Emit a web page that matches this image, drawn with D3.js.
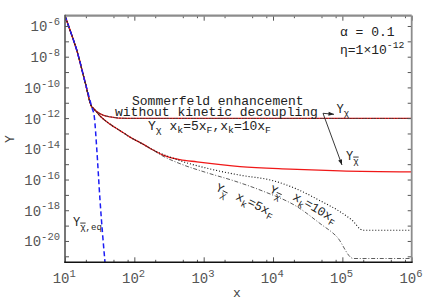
<!DOCTYPE html>
<html>
<head>
<meta charset="utf-8">
<script src="https://cdn.jsdelivr.net/npm/d3@7"></script>
<style>
body { margin: 0; background: #fff; }
text { font-family: 'Liberation Mono', 'DejaVu Sans Mono', monospace; white-space: pre; fill: #222; }
</style>
</head>
<body>
<script>

// values, [x, Y]
var sharedStart = [[10, 4.68e-6], [11.8, 5.47e-7], [14.75, 2.72e-8], [19.43, 2.33e-10], [24.27, 5.47e-12]];
var eqTail = [[26.47, 1.22e-12], [28.66, 1.11e-14], [31.98, 4.53e-18], [37.76, 3.9e-22]];
var chiTail = [[28.66, 2.66e-12], [35.3, 1.57e-12], [44.6, 1.22e-12], [77.6, 9.6e-13], [1e3, 9.5e-13], [1e6, 9.5e-13]];
var chibarTail = [[25.6, 4.5e-12], [32.0, 1.36e-12], [44.6, 4.07e-13], [62.1, 1.54e-13], [86.6, 5.79e-14], [133.3, 2.02e-14], [168, 1.1e-14]];
var chibarNoKD = [[259, 3.88e-15], [455.5, 1.98e-15], [801, 1.42e-15], [3340, 6.9e-16], [1.76e4, 4.75e-16], [9.25e4, 3.68e-16], [1e6, 3.17e-16]];
var chibarXk10 = [[455.5, 1.70e-15], [1363, 4.41e-16], [3340, 1.93e-16], [1e4, 8.45e-17], [2.22e4, 2.36e-17], [4.76e4, 4.2e-18], [9.25e4, 8.05e-19], [1.38e5, 2.25e-19], [1.98e5, 5.0e-20], [1e6, 5.0e-20]];
var chibarXk5 = [[259, 3.34e-15], [455.5, 1.08e-15], [1045, 3.03e-16], [2830, 7.83e-17], [7170, 1.75e-17], [2.22e4, 1.71e-18], [4.76e4, 1.37e-19], [8.37e4, 1.83e-20], [1.44e5, 7.2e-22], [1e6, 7.2e-22]];

var xMajor = [1e1, 1e2, 1e3, 1e4, 1e5, 1e6];
var xMajorExp = ['1', '2', '3', '4', '5', '6'];
var xMinorMult = [2, 5, 8];
var yTickExp = [-21, -20, -19, -18, -17, -16, -15, -14, -13, -12, -11, -10, -9, -8, -7, -6];
var yLabelExp = [-20, -18, -16, -14, -12, -10, -8, -6];

var pL = 65, pR = 411.7, pT = 15.7, pB = 262.3;

var svg = d3.select('body').append('svg')
    .attr('width', 436)
    .attr('height', 305);

var x = d3.scaleLog().domain([10, 1e6]).range([pL, pR]);
var y = d3.scaleLog().domain([Math.pow(10, -5.33), Math.pow(10, -21.39)]).range([pT, pB]);

svg.append('defs').append('clipPath').attr('id', 'clip')
    .append('rect')
    .attr('x', pL).attr('y', pT)
    .attr('width', pR - pL).attr('height', pB - pT);

var line = d3.line()
    .x(d => x(d[0]))
    .y(d => y(d[1]))
    .curve(d3.curveMonotoneX);

var plot = svg.append('g').attr('clip-path', 'url(#clip)');

function draw(data, color, width, dash) {
    plot.append('path')
        .attr('d', line(data))
        .attr('fill', 'none')
        .attr('stroke', color)
        .attr('stroke-width', width)
        .attr('stroke-dasharray', dash || null);
}

var red = '#f01818';
var dotted = '1,2';
var dashdot = '4,1.8,1,1.8';

draw(sharedStart.concat(chibarTail, chibarNoKD), red, 1.3);
draw(sharedStart.concat(chiTail), red, 1.3);
draw(sharedStart.concat(chiTail), '#222', 1, dotted);
draw(sharedStart.concat(chiTail), '#444', 0.7, dashdot);
draw(sharedStart.concat(chibarTail, chibarXk10), '#111', 1.1, dotted);
draw(sharedStart.concat(chibarTail, chibarXk5), '#333', 0.8, dashdot);
draw(sharedStart.concat(eqTail), '#1c1cf5', 1.5, '5,3');

// ticks
var xMinor = [];
xMajor.slice(0, -1).forEach(function (d) {
    xMinorMult.forEach(function (m) { xMinor.push(d * m); });
});
var yTicks = yTickExp.map(e => Math.pow(10, e));

function ticks(axis, tx, ty, size, values) {
    var g = svg.append('g')
        .attr('transform', 'translate(' + tx + ',' + ty + ')')
        .call(axis.tickValues(values).tickSize(-size).tickFormat(''));
    g.select('.domain').remove();
    g.selectAll('text').remove();
    g.selectAll('line').attr('stroke', '#555');
}

ticks(d3.axisBottom(x), 0, pB, 5, xMajor);
ticks(d3.axisBottom(x), 0, pB, 2.5, xMinor);
ticks(d3.axisTop(x), 0, pT, 5, xMajor);
ticks(d3.axisTop(x), 0, pT, 2.5, xMinor);
ticks(d3.axisLeft(y), pL, 0, 4, yTicks);
ticks(d3.axisRight(y), pR, 0, 4, yTicks);

// frame
svg.append('line').attr('x1', pL).attr('x2', pR).attr('y1', pT).attr('y2', pT)
    .attr('stroke', '#8c8c8c').attr('stroke-width', 2.2);
svg.append('line').attr('x1', pR).attr('x2', pR).attr('y1', pT).attr('y2', pB)
    .attr('stroke', '#8c8c8c').attr('stroke-width', 1.8);
svg.append('line').attr('x1', pL).attr('x2', pL).attr('y1', pT - 1).attr('y2', pB)
    .attr('stroke', '#555').attr('stroke-width', 1.6);
svg.append('line').attr('x1', pL - 0.8).attr('x2', pR + 0.9).attr('y1', pB).attr('y2', pB)
    .attr('stroke', '#111').attr('stroke-width', 1.6);

// text with sub / superscripts
function rich(sel, parts, size) {
    var shift = 0;
    parts.forEach(function (p) {
        var kind = p[1];
        var target = kind === 'sub' ? size * 0.3 : kind === 'sup' ? -size * 0.45 : 0;
        var t = sel.append('tspan')
            .attr('dy', target - shift)
            .attr('font-size', kind ? size * 0.75 : size)
            .text(p[0]);
        if (p[2]) t.attr('text-decoration', 'overline');
        shift = target;
    });
    return sel;
}

function label(px, py, parts, size, anchor, angle, color) {
    var t = svg.append('text')
        .attr('transform', 'translate(' + px + ',' + py + ')' + (angle ? ' rotate(' + angle + ')' : ''))
        .attr('text-anchor', anchor || 'start')
        .attr('font-size', size);
    if (color) t.style('fill', color);
    return rich(t, parts, size);
}

yLabelExp.forEach(function (e) {
    label(60, y(Math.pow(10, e)) + 5.5, [['10'], [String(e), 'sup']], 14, 'end', 0, '#555');
});
xMajor.forEach(function (d, i) {
    label(x(d) - 12.3, 283, [['10'], [xMajorExp[i], 'sup']], 14, 'start', 0, '#555');
});

label(237, 297, [['x']], 13, 'middle', 0, '#444');
label(14, 139, [['Y']], 13, 'middle', -90, '#444');

label(132, 105, [['Sommerfeld enhancement']], 13);
label(115, 116, [['without kinetic decoupling']], 13);
label(148, 129.5, [['Y'], ['χ', 'sub'], [' x'], ['k', 'sub'], ['=5x'], ['F', 'sub'], [',x'], ['k', 'sub'], ['=10x'], ['F', 'sub']], 13);

label(340, 36, [['α = 0.1']], 13);
label(340, 53.5, [['η=1×10'], ['-12', 'sup']], 13);

label(336.5, 112.5, [['Y'], ['χ', 'sub']], 12);
label(346, 160, [['Y'], ['χ', 'sub', true]], 12);
label(73, 226, [['Y'], ['χ', 'sub', true], [',eq', 'sub']], 12);

label(215, 190, [['Y'], ['χ', 'sub', true]], 12, 'start', 27);
label(235, 199, [['x'], ['k', 'sub'], ['=5x'], ['F', 'sub']], 12.5, 'start', 26);
label(269, 192, [['Y'], ['χ', 'sub', true]], 12, 'start', 25);
label(292, 199, [['x'], ['k', 'sub'], ['=10x'], ['F', 'sub']], 12.5, 'start', 30);

// arrows
function arrow(x1, y1, x2, y2) {
    svg.append('line')
        .attr('x1', x1).attr('y1', y1).attr('x2', x2).attr('y2', y2)
        .attr('stroke', '#222').attr('stroke-width', 0.9);
    var a = Math.atan2(y2 - y1, x2 - x1), L = 5.5, w = 2;
    var bx = x2 - L * Math.cos(a), by = y2 - L * Math.sin(a);
    svg.append('path')
        .attr('d', 'M' + x2 + ',' + y2 +
            'L' + (bx - w * Math.sin(a)) + ',' + (by + w * Math.cos(a)) +
            'L' + (bx + w * Math.sin(a)) + ',' + (by - w * Math.cos(a)) + 'Z')
        .attr('fill', '#222');
}
arrow(323, 113.3, 334, 114.3);
arrow(323, 113.3, 342, 165);

</script>
</body>
</html>
